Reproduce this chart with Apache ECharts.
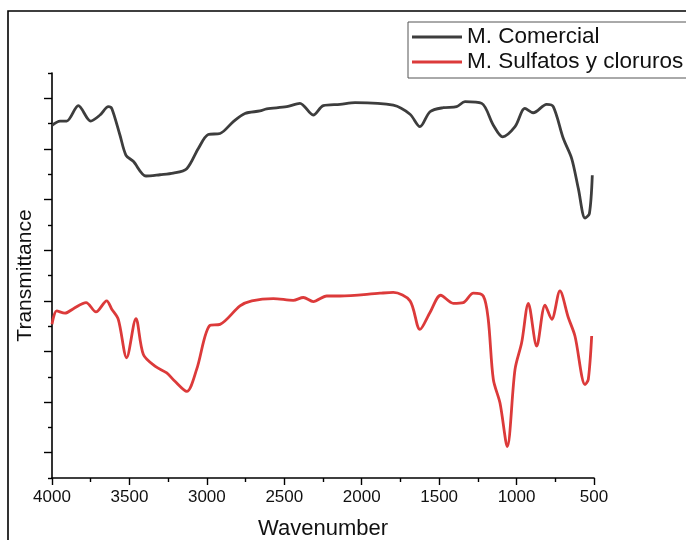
<!DOCTYPE html>
<html>
<head>
<meta charset="utf-8">
<script src="https://cdn.jsdelivr.net/npm/echarts@6/dist/echarts.min.js"></script>
<style>
  html, body { margin: 0; padding: 0; background: #fff; }
  #chart { width: 686px; height: 540px; }
</style>
</head>
<body>
<div id="chart"></div>
<script>
// M. Comercial (black)
var comWave = [4000, 3948, 3905, 3830, 3750, 3690, 3636, 3614, 3561, 3522, 3475, 3393, 3303, 3217, 3130,
  3055, 2991, 2915, 2829, 2754, 2657, 2614, 2484, 2399, 2313, 2248, 2140, 2043, 1796, 1688, 1624,
  1559, 1473, 1387, 1333, 1225, 1150, 1090, 1010, 946, 892, 806, 763, 698, 644, 601, 558, 530, 511];
var comTrans = [13.93, 14.10, 14.10, 14.71, 14.10, 14.34, 14.67, 14.60, 13.54, 12.75, 12.51, 11.93, 11.98, 12.04, 12.22,
  13.02, 13.57, 13.61, 14.08, 14.40, 14.50, 14.58, 14.67, 14.80, 14.34, 14.71, 14.76, 14.83, 14.73, 14.37, 13.88,
  14.47, 14.63, 14.67, 14.87, 14.80, 13.94, 13.48, 13.88, 14.60, 14.43, 14.76, 14.67, 13.41, 12.62, 11.43, 10.27, 10.44, 11.96];

// M. Sulfatos y cloruros (red)
var sulWave = [4000, 3970, 3916, 3862, 3780, 3716, 3647, 3614, 3572, 3518, 3458, 3410, 3335, 3259, 3206, 3130,
  3066, 2980, 2915, 2786, 2710, 2571, 2442, 2377, 2313, 2226, 2140, 1882, 1796, 1688, 1624, 1559,
  1490, 1409, 1344, 1279, 1215, 1183, 1150, 1107, 1060, 1010, 967, 924, 870, 816, 773, 720,
  666, 623, 558, 537, 515];
var sulTrans = [6.07, 6.60, 6.51, 6.69, 6.93, 6.56, 7.00, 6.67, 6.27, 4.75, 6.30, 4.88, 4.42, 4.15, 3.82, 3.42,
  4.29, 6.03, 6.07, 6.80, 7.00, 7.09, 7.02, 7.13, 6.97, 7.19, 7.19, 7.30, 7.33, 7.00, 5.87, 6.54,
  7.22, 6.90, 6.93, 7.30, 7.19, 6.27, 3.89, 2.96, 1.24, 4.29, 5.35, 6.90, 5.21, 6.83, 6.27, 7.39,
  6.34, 5.61, 3.69, 3.89, 5.61];

var seriesNames = ['M. Comercial', 'M. Sulfatos y cloruros'];
var xTicks = [500, 4000, 500]; // min, max, interval

function zip(a, b) {
  var out = [];
  for (var i = 0; i < a.length; i++) out.push([a[i], b[i]]);
  return out;
}

var font = 'Liberation Sans, Arial, sans-serif';
var chart = echarts.init(document.getElementById('chart'));

var option = {
  animation: false,
  backgroundColor: '#fff',
  grid: { left: 52, right: 92, top: 73, bottom: 62, outerBoundsMode: 'none' },
  graphic: [
    {
      type: 'polyline',
      shape: { points: [[8, 540], [8, 11], [686, 11]] },
      style: { stroke: '#000', lineWidth: 1.6, fill: null }
    }
  ],
  legend: {
    orient: 'vertical',
    left: 408,
    top: 22,
    padding: [3, 6, 4, 4],
    icon: 'rect',
    itemWidth: 50,
    itemHeight: 3,
    itemGap: 1,
    borderColor: '#555',
    borderWidth: 1,
    textStyle: { fontFamily: font, fontSize: 22.5, color: '#111', lineHeight: 24 },
    data: seriesNames
  },
  xAxis: {
    type: 'value',
    inverse: true,
    min: xTicks[0],
    max: xTicks[1],
    interval: xTicks[2],
    name: 'Wavenumber',
    nameLocation: 'middle',
    nameGap: 40,
    nameTextStyle: { fontFamily: font, fontSize: 22, color: '#111' },
    axisLine: { onZero: false, lineStyle: { color: '#000', width: 1.6 } },
    axisTick: { length: 7, lineStyle: { color: '#000', width: 1.4 } },
    minorTick: { show: true, splitNumber: 2, length: 4, lineStyle: { color: '#000', width: 1.4 } },
    axisLabel: { fontFamily: font, fontSize: 17, color: '#111', margin: 11, formatter: function (v) { return String(v); } },
    splitLine: { show: false }
  },
  yAxis: {
    type: 'value',
    min: 0,
    max: 16,
    interval: 2,
    name: 'Transmittance',
    nameLocation: 'middle',
    nameGap: 16,
    nameTextStyle: { fontFamily: font, fontSize: 21, color: '#111' },
    axisLine: { onZero: false, lineStyle: { color: '#000', width: 1.6 } },
    axisTick: { length: 4, lineStyle: { color: '#000', width: 1.4 } },
    minorTick: { show: true, splitNumber: 2, length: 8, lineStyle: { color: '#000', width: 1.4 } },
    axisLabel: { show: false },
    splitLine: { show: false }
  },
  series: [
    {
      name: seriesNames[0],
      type: 'line',
      symbol: 'none',
      smooth: 0.3,
      color: '#3d3d3d',
      lineStyle: { width: 2.8, color: '#3d3d3d' },
      data: zip(comWave, comTrans)
    },
    {
      name: seriesNames[1],
      type: 'line',
      symbol: 'none',
      smooth: 0.3,
      color: '#dc3a3a',
      lineStyle: { width: 2.8, color: '#dc3a3a' },
      data: zip(sulWave, sulTrans)
    }
  ]
};

chart.setOption(option);
</script>
</body>
</html>
